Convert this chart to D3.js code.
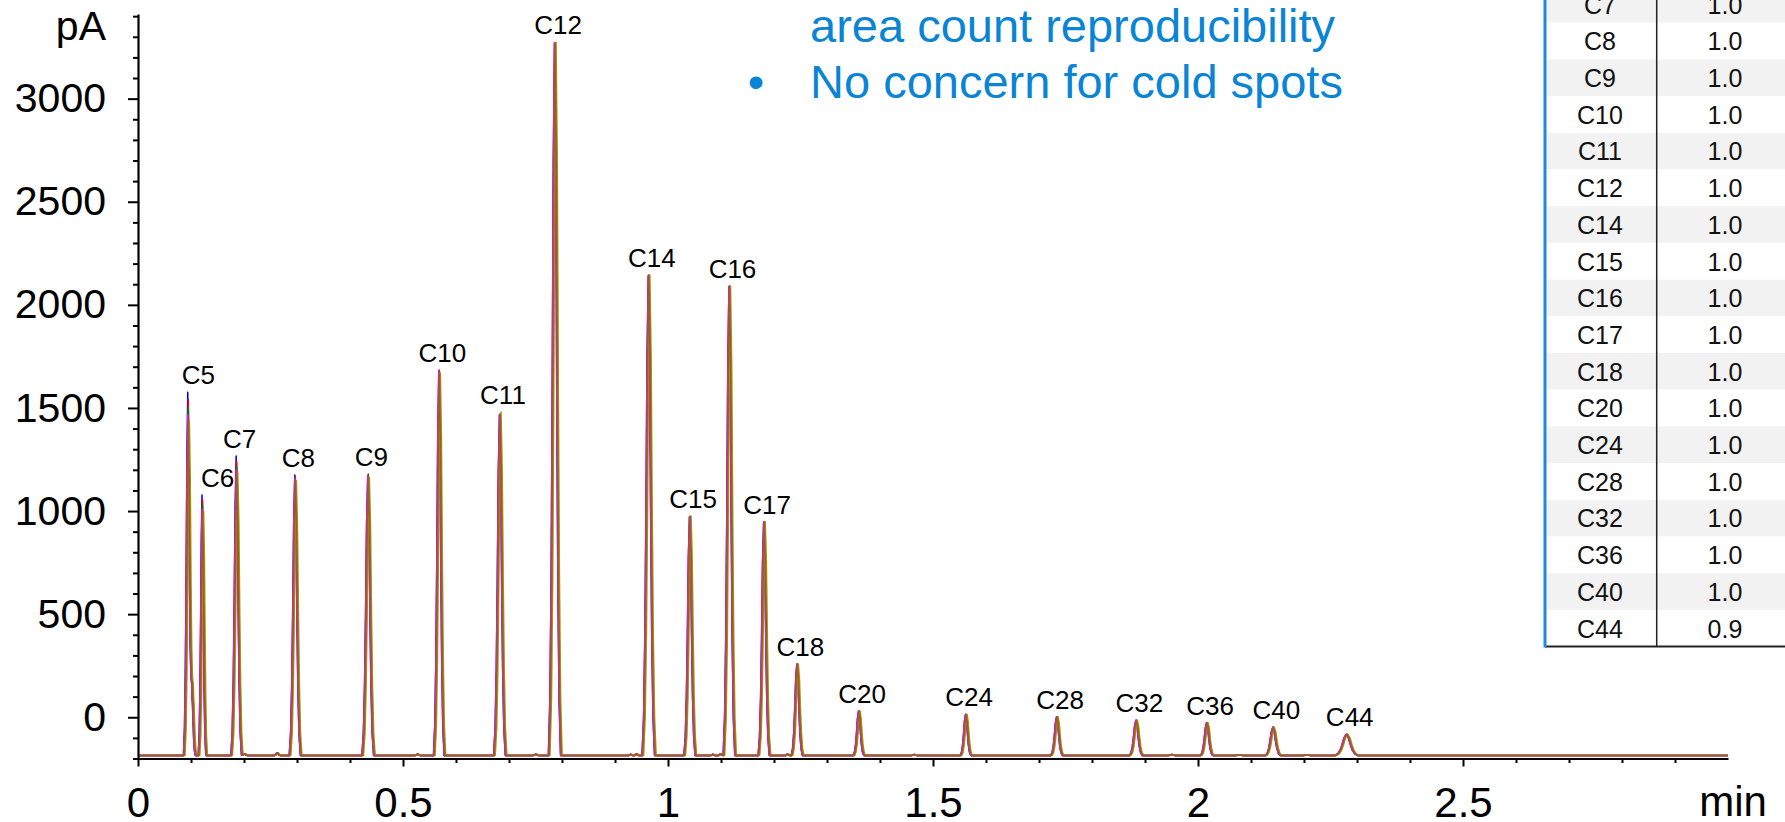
<!DOCTYPE html>
<html><head><meta charset="utf-8">
<script src="https://cdn.jsdelivr.net/npm/d3@7"></script>
<style>
html,body{margin:0;padding:0;background:#fff;overflow:hidden}
svg{display:block;font-family:"Liberation Sans",Arial,sans-serif}
</style></head><body>
<svg id="chart" width="1785" height="822"></svg>
<script>
// ---------------- data ----------------
const peakNames = ["C5","C6","C7","C8","C9","C10","C11","C12","C14","C15","C16","C17","C18","C20","C24","C28","C32","C36","C40","C44"];
const peakTimes = [0.0949,0.1218,0.1862,0.2968,0.4345,0.5685,0.6830,0.7868,0.9638,1.0415,1.1160,1.1815,1.2440,1.3604,1.5623,1.7340,1.8836,2.0170,2.1420,2.2806];
const peakHalfWidths = [0.0082,0.0072,0.0100,0.0105,0.0110,0.0100,0.0110,0.0115,0.0118,0.0105,0.0110,0.0105,0.0105,0.0100,0.0100,0.0110,0.0120,0.0115,0.0140,0.0210];
const runNames = ["Run 1","Run 2","Run 3","Run 4","Run 5","Run 6"];
// apex heights in pA, one array per run, in peak order
const run1Heights = [1576,1078,1267,1175,1172,1670,1465,3268,2140,970,2088,945,256,29,13,1,-16,-27,-49,-83];
const run2Heights = [1540,1054,1240,1168,1172,1684,1468,3270,2142,972,2089,946,257,30,14,2,-15,-26,-48,-82];
const run3Heights = [1506,1030,1215,1165,1180,1675,1470,3271,2143,973,2090,947,257,30,14,2,-15,-26,-48,-82];
const run4Heights = [1466,1010,1200,1159,1170,1682,1468,3272,2144,974,2090,947,258,30,14,2,-15,-26,-48,-82];
const run5Heights = [1440,1000,1191,1147,1163,1670,1480,3274,2145,976,2091,948,258,30,14,2,-15,-26,-48,-82];
const run6Heights = [1430, 995,1185,1150,1160,1672,1470,3270,2143,974,2090,947,258,30,14,2,-15,-26,-48,-82];
const runShifts = [-0.001,0,0,-0.001,0.002,0];
const baselineLevel = -185;
// small features on the baseline: [time, height above baseline, half width]
const minorFeatures = [[0.1025,300,0.0065],[0.201,8,0.006],[0.263,12,0.006],[0.528,6,0.005],[0.751,6,0.005],[0.930,5,0.004],[0.941,8,0.004],[1.085,5,0.004],[1.100,8,0.005],[1.226,6,0.004],[1.465,4,0.005],[1.951,4,0.006],[2.078,3,0.006],[2.206,2,0.006]];
// typical peak outline read from the C18 peak: [offset in half widths, fraction of height]
const peakProfile = [[-1,0],[-0.75,0.08],[-0.55,0.25],[-0.38,0.5],[-0.2,0.83],[0,1],[0.2,0.83],[0.38,0.5],[0.55,0.25],[0.75,0.08],[1,0]];
const xTickValues = [0,0.5,1,1.5,2,2.5];
const xTickLabels = ["0","0.5","1","1.5","2","2.5"];
const xUnit = "min";
const yTickValues = [0,500,1000,1500,2000,2500,3000];
const yTickLabels = ["0","500","1000","1500","2000","2500","3000"];
const yUnit = "pA";
const tableNames = ["C7","C8","C9","C10","C11","C12","C14","C15","C16","C17","C18","C20","C24","C28","C32","C36","C40","C44"];
const tableValues = ["1.0","1.0","1.0","1.0","1.0","1.0","1.0","1.0","1.0","1.0","1.0","1.0","1.0","1.0","1.0","1.0","1.0","0.9"];
const titleLines = ["area count reproducibility","No concern for cold spots"];

// ---------------- layout / style ----------------
const runHeights = [run1Heights,run2Heights,run3Heights,run4Heights,run5Heights,run6Heights];
const runColors = ["#0000ff","#ff0000","#008000","#ff00ff","#9a9a00","#a0582c"];
const svg = d3.select("#chart");
const x = d3.scaleLinear().domain([0,3]).range([138,1728]);
const y = d3.scaleLinear().domain([-200,3410]).range([758.5,14.1]);
const blue = "#0a85d5";

// ---- table (behind everything, at right) ----
const tbl = svg.append("g");
const rowH = 36.7, rowTop0 = -14, tLeft = 1545, tDiv = 1656.7;
tableNames.forEach((n,i)=>{
  const top = rowTop0 + i*rowH;
  tbl.append("rect").attr("x",tLeft).attr("y",top).attr("width",1785-tLeft).attr("height",rowH)
    .attr("fill", i%2===0 ? "#f2f2f2" : "#ffffff");
  tbl.append("text").attr("x",1600).attr("y",top+rowH/2+9.3).attr("text-anchor","middle")
    .attr("font-size",25).attr("fill","#111").text(n);
  tbl.append("text").attr("x",1725).attr("y",top+rowH/2+9.3).attr("text-anchor","middle")
    .attr("font-size",25).attr("fill","#111").text(tableValues[i]);
});
const tBottom = rowTop0 + tableNames.length*rowH;
tbl.append("line").attr("x1",tDiv).attr("x2",tDiv).attr("y1",0).attr("y2",tBottom).attr("stroke","#222").attr("stroke-width",1.5);
tbl.append("line").attr("x1",tLeft).attr("x2",1785).attr("y1",tBottom).attr("y2",tBottom).attr("stroke","#222").attr("stroke-width",2);
tbl.append("line").attr("x1",tLeft).attr("x2",tLeft).attr("y1",0).attr("y2",tBottom+1).attr("stroke","#1e8ae0").attr("stroke-width",3);

// ---- title text ----
svg.append("text").attr("x",810).attr("y",41.7).attr("font-size",47).attr("fill",blue).text(titleLines[0]);
svg.append("text").attr("x",756).attr("y",98.3).attr("text-anchor","middle").attr("font-size",47).attr("fill",blue).text("\u2022");
svg.append("text").attr("x",810).attr("y",98.3).attr("font-size",47).attr("fill",blue).text(titleLines[1]);

// ---- traces ----
function profileAt(u){
  if (u <= -1 || u >= 1) return 0;
  for (let k=0;k<peakProfile.length-1;k++){
    const a = peakProfile[k], b = peakProfile[k+1];
    if (u >= a[0] && u <= b[0]) return a[1] + (b[1]-a[1])*(u-a[0])/(b[0]-a[0]);
  }
  return 0;
}
const line = d3.line().x(d=>x(d[0])).y(d=>y(d[1]));
runHeights.forEach((heights,r)=>{
  const sh = runShifts[r];
  const comps = peakTimes.map((t,i)=>({t:t+sh, w:peakHalfWidths[i], a:heights[i]-baselineLevel}))
    .concat(minorFeatures.map(f=>({t:f[0]+sh, w:f[2], a:f[1]})));
  let ts = [0,3];
  comps.forEach(c=>peakProfile.forEach(p=>ts.push(c.t + p[0]*c.w)));
  ts = Array.from(new Set(ts)).sort((a,b)=>a-b);
  const pts = ts.map(t=>[t, baselineLevel + d3.sum(comps, c=>c.a*profileAt((t-c.t)/c.w))]);
  svg.append("path").datum(pts).attr("d",line).attr("fill","none")
    .attr("stroke",runColors[r]).attr("stroke-width",1.5).attr("stroke-linejoin","round");
});

// ---- peak labels ----
const labelNudge = {C5:7, C6:12};
peakNames.forEach((n,i)=>{
  const top = d3.max(runHeights, h=>h[i]);
  svg.append("text").attr("x",x(peakTimes[i])+3+(labelNudge[n]||0)).attr("y",y(top)-8)
    .attr("text-anchor","middle").attr("font-size",26).attr("fill","#000").text(n);
});

// ---- axes ----
const yMinor = d3.range(-200,3401,100).filter(v=>!yTickValues.includes(v));
const gy = svg.append("g").attr("transform",`translate(${x(0)},0)`);
gy.call(d3.axisLeft(y).tickValues(yMinor).tickSize(5).tickSizeOuter(0).tickFormat(""));
gy.call(g=>g.select(".domain").remove());
const gy2 = svg.append("g").attr("transform",`translate(${x(0)},0)`);
gy2.call(d3.axisLeft(y).tickValues(yTickValues).tickSize(10).tickSizeOuter(0).tickPadding(22)
  .tickFormat((d,i)=>yTickLabels[i]));
gy2.selectAll("text").attr("font-size",41).attr("font-family","Liberation Sans, Arial, sans-serif").attr("fill","#000");
gy2.selectAll("line").attr("stroke","#000").attr("stroke-width",2);
gy.selectAll("line").attr("stroke","#000").attr("stroke-width",2);
gy2.select(".domain").attr("stroke","#000").attr("stroke-width",2.2);
svg.append("text").attr("x",106).attr("y",40).attr("text-anchor","end").attr("font-size",41).attr("fill","#000").text(yUnit);

const xMinor = d3.range(1,30).map(k=>k/10).filter(v=>!xTickValues.some(t=>Math.abs(t-v)<1e-9));
const gx = svg.append("g").attr("transform",`translate(0,${y(-200)})`);
gx.call(d3.axisBottom(x).tickValues(xMinor).tickSize(4.5).tickSizeOuter(0).tickFormat(""));
gx.select(".domain").remove();
gx.selectAll("line").attr("stroke","#000").attr("stroke-width",2);
const gx2 = svg.append("g").attr("transform",`translate(0,${y(-200)})`);
gx2.call(d3.axisBottom(x).tickValues(xTickValues).tickSize(8).tickSizeOuter(0).tickPadding(21)
  .tickFormat((d,i)=>xTickLabels[i]));
gx2.selectAll("text").attr("font-size",42).attr("font-family","Liberation Sans, Arial, sans-serif").attr("fill","#000");
gx2.selectAll("line").attr("stroke","#000").attr("stroke-width",2);
gx2.select(".domain").attr("stroke","#000").attr("stroke-width",2.2);
svg.append("text").attr("x",x(3)+5).attr("y",816).attr("text-anchor","middle").attr("font-size",42).attr("fill","#000").text(xUnit);
</script>
</body></html>
